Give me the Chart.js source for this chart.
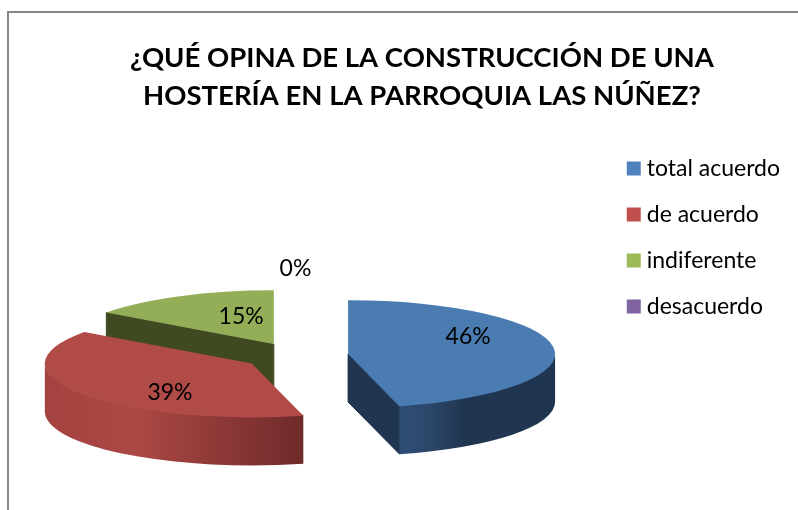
<!DOCTYPE html>
<html>
<head>
<meta charset="utf-8">
<style>html,body{margin:0;padding:0;background:#fff}canvas{display:block}</style>
<script src="https://cdn.jsdelivr.net/npm/chart.js@4/dist/chart.umd.js"></script>
</head>
<body>
<canvas id="c" width="798" height="510"></canvas>
<script>
const categories = ['total acuerdo', 'de acuerdo', 'indiferente', 'desacuerdo'];
const seriesValues = [46, 39, 15, 0];
const legendColors = ['#4F81BD', '#C0504D', '#9BBB59', '#8064A2'];
const topColors = ['#4A7BB1', '#B14B48', '#93AE57', '#7B5F9A'];
const wallColors = ['#1F3550', '#6F2A2A', '#3F4A22', '#3A2C4A'];
const titleLines = ['¿QUÉ OPINA DE LA CONSTRUCCIÓN DE UNA', 'HOSTERÍA EN LA PARROQUIA LAS NÚÑEZ?'];

const view = {cx: 296.5, cy: 355.7, squash: 0.26, depth: 48};
const explode = [52, 54, 50, 52];
const drawOrder = [2, 1, 0];
const labelPlace = [
  {r: 120, dx: 1, dy: -14},
  {r: 99, dx: 0, dy: 14.5},
  {r: 72, dx: 0, dy: -10.4},
  {r: 284, dx: -1, dy: 0}
];

function rimPath(ctx, s, R, a0, a1) {
  ctx.beginPath();
  ctx.ellipse(s.x, s.y - 1, R, R * view.squash, 0, a0, a1, false);
  ctx.ellipse(s.x, s.y + view.depth, R, R * view.squash, 0, a1, a0, true);
  ctx.closePath();
}

const pie3d = {
  id: 'pie3d',
  beforeDraw(chart) {
    const ctx = chart.ctx;
    ctx.save();
    ctx.fillStyle = '#fff';
    ctx.fillRect(0, 0, chart.width, chart.height);
    ctx.strokeStyle = '#868686';
    ctx.lineWidth = 2;
    ctx.strokeRect(8, 12, chart.width + 20, chart.height + 20);
    ctx.restore();
  },
  beforeDatasetsDraw(chart) {
    const ctx = chart.ctx;
    const arcs = chart.getDatasetMeta(0).data;
    drawOrder.forEach(i => {
      const el = arcs[i];
      if (el.circumference === 0) return;
      const mid = (el.startAngle + el.endAngle) / 2;
      const s = {
        x: view.cx + explode[i] * Math.cos(mid),
        y: view.cy + explode[i] * Math.sin(mid) * view.squash
      };
      const R = el.outerRadius;
      const edge = a => ({x: s.x + R * Math.cos(a), y: s.y + R * Math.sin(a) * view.squash});
      ctx.save();
      [[el.startAngle, el.startAngle - Math.PI / 2], [el.endAngle, el.endAngle + Math.PI / 2]].forEach(([a, n]) => {
        if (Math.sin(n) > 0.01) {
          const p = edge(a);
          ctx.fillStyle = wallColors[i];
          ctx.strokeStyle = wallColors[i];
          ctx.lineWidth = 1;
          ctx.beginPath();
          ctx.moveTo(s.x, s.y);
          ctx.lineTo(p.x, p.y);
          ctx.lineTo(p.x, p.y + view.depth);
          ctx.lineTo(s.x, s.y + view.depth);
          ctx.closePath();
          ctx.fill();
          ctx.stroke();
        }
      });
      const a0 = Math.max(el.startAngle, 0), a1 = Math.min(el.endAngle, Math.PI);
      if (a1 > a0) {
        const xa = edge(a0).x, xb = edge(a1).x;
        const g = ctx.createLinearGradient(Math.min(xa, xb), 0, Math.max(xa, xb), 0);
        if (i === 0) {
          g.addColorStop(0, '#304E76');
          g.addColorStop(0.2, '#2B4669');
          g.addColorStop(0.42, '#203650');
          g.addColorStop(1, '#1F3550');
        } else {
          g.addColorStop(0, '#A34240');
          g.addColorStop(0.35, '#AC4845');
          g.addColorStop(1, '#6F2A2A');
        }
        ctx.fillStyle = g;
        rimPath(ctx, s, R, a0, a1);
        ctx.fill();
      }
      ctx.translate(s.x, s.y);
      ctx.scale(1, view.squash);
      ctx.translate(-el.x, -el.y);
      el.draw(ctx);
      ctx.restore();
    });
    return false;
  },
  afterDraw(chart) {
    const ctx = chart.ctx;
    const arcs = chart.getDatasetMeta(0).data;
    const total = seriesValues.reduce((a, b) => a + b, 0);
    ctx.save();
    ctx.font = '23px Lato';
    ctx.fillStyle = '#000';
    ctx.textAlign = 'center';
    ctx.textBaseline = 'middle';
    arcs.forEach((el, i) => {
      const mid = (el.startAngle + el.endAngle) / 2;
      const p = labelPlace[i];
      const x = view.cx + (explode[i] + p.r) * Math.cos(mid) + p.dx;
      const y = view.cy + (explode[i] + p.r) * Math.sin(mid) * view.squash + p.dy;
      ctx.fillText(Math.round(seriesValues[i] / total * 100) + '%', x, y);
    });
    ctx.restore();
  }
};

new Chart(document.getElementById('c'), {
  type: 'pie',
  data: {
    labels: categories,
    datasets: [{data: seriesValues, backgroundColor: topColors, borderWidth: 0}]
  },
  plugins: [pie3d],
  options: {
    responsive: false,
    animation: false,
    radius: 207,
    layout: {padding: {top: 0, right: 8, bottom: 35, left: 54}},
    plugins: {
      tooltip: {enabled: false},
      title: {
        display: true,
        text: titleLines,
        color: '#000',
        font: {family: 'Lato', size: 27.5, weight: 'bold', lineHeight: 1.38},
        padding: {top: 39, bottom: 24}
      },
      legend: {
        position: 'right',
        labels: {
          color: '#000',
          font: {family: 'Lato', size: 23},
          usePointStyle: true,
          pointStyle: 'rect',
          boxWidth: 3,
          boxHeight: 14,
          padding: 23,
          generateLabels(chart) {
            return categories.map((t, i) => ({
              text: t, fillStyle: legendColors[i], strokeStyle: legendColors[i],
              lineWidth: 0, pointStyle: 'rect', index: i, hidden: false, fontColor: '#000'
            }));
          }
        }
      }
    }
  }
});
</script>
</body>
</html>
